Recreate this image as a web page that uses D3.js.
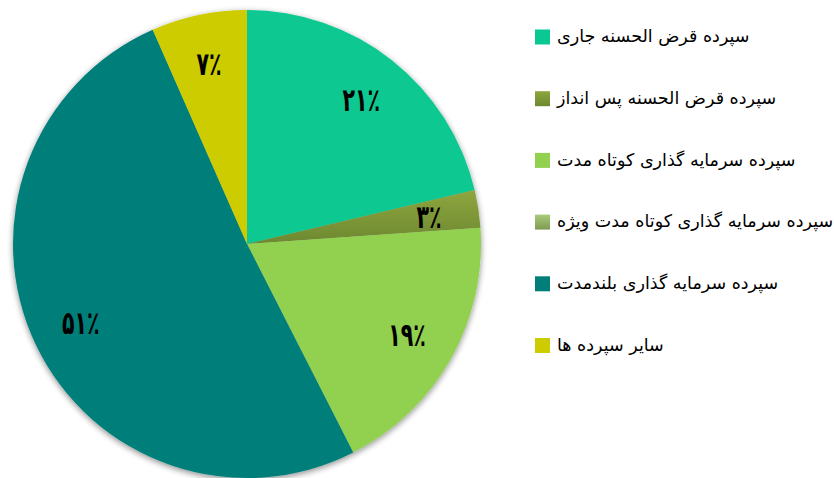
<!DOCTYPE html>
<html>
<head>
<meta charset="utf-8">
<script src="https://cdn.jsdelivr.net/npm/d3@7"></script>
<style>
  html, body { margin: 0; padding: 0; background: #fff; }
  svg { display: block; }
</style>
</head>
<body>
<svg id="chart" width="834" height="478"></svg>
<script>
// ---- data ----
const categories = [
  "سپرده قرض الحسنه جاری",
  "سپرده قرض الحسنه پس انداز",
  "سپرده سرمایه گذاری کوتاه مدت",
  "سپرده سرمایه گذاری کوتاه مدت ویژه",
  "سپرده سرمایه گذاری بلندمدت",
  "سایر سپرده ها"
];
const values = [21.3, 2.6, 18.6, 0, 50.9, 6.6];
const colors = ["#0AC891", "url(#gOlive)", "#92D050", "url(#gLight)", "#007F7A", "#CCCC00"];

const svg = d3.select("#chart");
const defs = svg.append("defs");

function grad(id, c1, c2) {
  const g = defs.append("linearGradient").attr("id", id)
    .attr("x1", 0).attr("y1", 0).attr("x2", 0).attr("y2", 1);
  g.append("stop").attr("offset", "0%").attr("stop-color", c1);
  g.append("stop").attr("offset", "100%").attr("stop-color", c2);
}
grad("gOlive", "#8FA63E", "#6C8831");
grad("gLight", "#AACB7A", "#7D9B52");

const f = defs.append("filter").attr("id", "shadow")
  .attr("x", "-10%").attr("y", "-10%").attr("width", "120%").attr("height", "120%");
f.append("feGaussianBlur").attr("in", "SourceAlpha").attr("stdDeviation", 3);
f.append("feOffset").attr("dx", 0).attr("dy", 2).attr("result", "b");
f.append("feComponentTransfer").append("feFuncA").attr("type", "linear").attr("slope", 0.45);
const m = f.append("feMerge");
m.append("feMergeNode");
m.append("feMergeNode").attr("in", "SourceGraphic");

const cx = 247, cy = 244, r = 234;
const pie = d3.pie().sort(null).value(d => d)(values);
const arc = d3.arc().innerRadius(0).outerRadius(r);
const labelArc = d3.arc().innerRadius(184).outerRadius(184);

const g = svg.append("g").attr("transform", `translate(${cx},${cy})`);
const slices = g.append("g").attr("filter", "url(#shadow)");
slices.selectAll("path").data(pie).join("path")
  .attr("d", arc)
  .attr("fill", (d, i) => colors[i]);

const toFa = s => String(s).replace(/\d/g, c => "۰۱۲۳۴۵۶۷۸۹"[+c]);

g.selectAll("text.lbl").data(pie.filter(d => d.data > 0)).join("text")
  .attr("class", "lbl")
  .attr("transform", d => `translate(${labelArc.centroid(d)}) scale(0.82,1.3)`)
  .attr("text-anchor", "middle")
  .attr("dy", "0.35em")
  .attr("font-family", "DejaVu Sans, sans-serif")
  .attr("font-weight", "bold")
  .attr("font-size", 25)
  .attr("fill", "#000")
  .text(d => toFa(Math.round(d.data)) + "٪");

// ---- legend ----
const leg = svg.append("g");
const rowY = d3.scalePoint().domain(d3.range(categories.length)).range([37, 345.5]);
const items = leg.selectAll("g").data(categories).join("g")
  .attr("transform", (d, i) => `translate(535,${rowY(i)})`);
items.append("rect")
  .attr("x", 0).attr("y", -7.5).attr("width", 15).attr("height", 15)
  .attr("fill", (d, i) => colors[i]);
items.append("text")
  .attr("x", 22).attr("y", 0).attr("dy", "0.3em")
  .attr("transform", "scale(1,1.15)")
  .attr("transform", null)
  .attr("font-family", "DejaVu Sans, sans-serif")
  .attr("font-size", 17.5)
  .attr("fill", "#000")
  .text(d => d);
</script>
</body>
</html>
